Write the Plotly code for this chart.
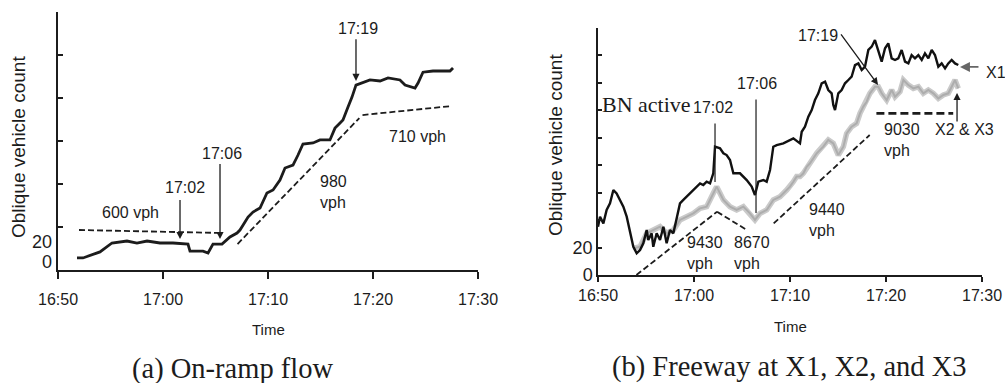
import plotly.graph_objects as go

W, H = 1005, 383

# ---------------- data ----------------
time_ticks = [0, 10, 20, 30, 40]          # minutes after 16:50
time_tick_labels = ["16:50", "17:00", "17:10", "17:20", "17:30"]

# (a) On-ramp oblique cumulative count
ramp_t = [1.81, 2.38, 4.0, 5.14, 6.57, 7.52, 8.48, 9.71, 10.95, 12.38, 12.57, 13.81,
          14.29, 14.76, 15.62, 16.38, 17.05, 17.33, 18.1, 18.57, 19.24, 19.9, 20.48,
          21.14, 21.62, 22.38, 22.86, 23.33, 24.29, 24.95, 25.9, 26.38, 26.86, 27.14,
          27.62, 28.0, 28.38, 28.95, 29.71, 30.67, 31.43, 32.57, 33.05, 34.0, 34.29,
          34.76, 35.71, 37.33, 37.62]
ramp_n = [14, 14, 21, 31.4, 33.7, 31.4, 33.7, 31.4, 31.4, 30.2, 22, 22,
          19.8, 30.2, 30.2, 38.4, 43, 46.5, 61.6, 67.4, 72.1, 89.5, 93,
          104.7, 118.6, 122, 133.7, 146.5, 147.7, 151.2, 151.2, 165, 171, 174.4,
          189.5, 201, 215, 217.4, 221, 219.8, 223.3, 221, 215, 211.6, 217.4,
          230, 231.4, 231.4, 235]
ramp_600_t, ramp_600_n = [2.0, 15.7], [46.5, 43.0]
ramp_980_t, ramp_980_n = [17.1, 28.7], [30.2, 176.7]
ramp_710_t, ramp_710_n = [29.0, 37.5], [180.2, 190.7]
ramp_y_ticks = [0, 50, 100, 150, 200, 250, 300]

# (b) Freeway oblique counts
x1_t = [0.0, 0.21, 0.56, 0.90, 1.25, 1.6, 1.94, 2.29, 2.64, 2.99, 3.33, 3.68, 4.03, 4.38,
        4.72, 5.07, 5.24, 5.59, 5.76, 6.11, 6.46, 6.81, 7.15, 7.5, 7.85, 8.19, 8.54, 8.89,
        9.24, 9.58, 9.93, 10.28, 10.63, 10.97, 11.32, 11.67, 12.01, 12.19, 12.71, 13.06,
        13.4, 13.75, 14.1, 14.79, 15.49, 16.01, 16.35, 16.7, 17.22, 17.57, 17.92, 18.26,
        18.61, 19.31, 20.0, 20.35, 21.04, 21.22, 21.56, 21.91, 22.26, 22.6, 22.95, 23.3,
        23.65, 23.99, 24.34, 24.51, 24.69, 25.03, 25.38, 25.73, 26.08, 26.42, 26.77, 27.12,
        27.47, 27.81, 28.16, 28.51, 28.85, 29.2, 29.55, 29.9, 30.24, 30.59, 30.94, 31.28,
        31.63, 31.98, 32.33, 32.67, 33.02, 33.37, 33.72, 34.06, 34.41, 34.76, 35.1, 35.45,
        35.8, 36.15, 36.49, 36.84, 37.19, 37.53]
x1_n = [35.2, 42.5, 37.6, 47.4, 52.2, 61.9, 59.5, 54.7, 49.8, 42.5, 30.4, 20.6, 15.8, 18.2,
        23.1, 32.8, 25.5, 30.4, 20.6, 30.4, 25.5, 35.2, 23.1, 32.8, 30.4, 40.1, 52.2, 54.7,
        57.1, 59.5, 61.9, 64.4, 66.8, 65.6, 68.0, 66.8, 74.1, 93.5, 92.3, 88.7,
        87.4, 83.8, 74.1, 74.1, 69.2, 64.4, 58.3, 68.0, 69.2, 68.0, 76.5, 93.5,
        94.7, 95.9, 98.4, 99.6, 95.9, 104.4, 108.1, 115.4, 120.2, 127.5, 132.4, 139.7,
        140.9, 134.8, 132.4, 123.9, 120.2, 132.4, 134.8, 139.7, 142.1, 144.5, 153.0, 154.2,
        149.4, 151.8, 164.0, 166.4, 171.2, 164.0, 155.5, 165.2, 168.8, 157.9, 156.7, 157.9,
        164.0, 155.5, 154.2, 160.3, 157.9, 160.3, 156.7, 161.5, 157.9, 164.0, 160.3, 151.8,
        154.2, 150.6, 154.2, 156.7, 154.2, 153.0]
x23_t = [3.68, 4.38, 5.07, 5.76, 6.46, 7.15, 7.85, 8.54, 9.24, 9.93, 10.63, 11.32, 12.01,
         12.36, 12.71, 13.06, 13.75, 14.44, 15.14, 15.83, 16.35, 16.88, 17.57, 18.26, 18.96,
         19.65, 20.0, 20.35, 20.69, 21.04, 21.39, 21.74, 22.08, 22.78, 23.47, 23.99, 24.51,
         25.03, 25.56, 25.9, 26.42, 26.94, 27.29, 27.64, 27.99, 28.33, 28.85, 29.2, 29.55,
         30.07, 30.59, 30.94, 31.46, 31.81, 32.33, 32.85, 33.37, 33.89, 34.41, 34.93, 35.45,
         35.97, 36.49, 36.84, 37.19, 37.53]
x23_n = [19.4, 20.6, 30.4, 32.8, 35.2, 30.4, 32.8, 40.1, 42.5, 44.9, 48.6, 49.8, 59.5,
         64.4, 59.5, 54.7, 49.8, 47.4, 49.8, 44.9, 40.1, 44.9, 47.4, 54.7, 57.1,
         61.9, 64.4, 68.0, 71.7, 71.7, 74.1, 78.9, 81.4, 88.7, 93.5, 98.4, 95.9,
         87.4, 93.5, 103.2, 108.1, 110.5, 117.8, 122.7, 126.3, 132.4, 137.2, 137.2, 132.4,
         127.5, 134.8, 129.9, 133.6, 142.1, 138.4, 136.0, 137.2, 132.4, 134.8, 132.4, 128.7,
         131.2, 132.4, 137.2, 142.1, 136.0]
fw_9430_t, fw_9430_n = [4.0, 12.4], [0.0, 46.1]
fw_8670_t, fw_8670_n = [12.4, 15.5], [46.1, 32.8]
fw_9440_t, fw_9440_n = [18.3, 28.3], [37.6, 102.0]
fw_9030_t, fw_9030_n = [29.0, 37.0], [117.8, 117.8]
fw_y_ticks = [0, 20, 40, 60, 80, 100, 120, 140, 160, 180]
fw_y_labels = ["0", "20", "", "", "", "", "", "", "", ""]

# ---------------- helpers ----------------
def px(x):
    return x / W

def py(y):
    return 1 - y / H

SANS = "Liberation Sans, Arial, sans-serif"
SERIF = "Liberation Serif, Times New Roman, serif"
INK = "#1c1c1c"

fig = go.Figure()

def line(xs, ys, ax, color=INK, width=2, dash="solid"):
    fig.add_trace(go.Scatter(x=xs, y=ys, mode="lines", xaxis="x" + ax, yaxis="y" + ax,
                             line=dict(color=color, width=width, dash=dash,
                                       shape="linear"),
                             showlegend=False, hoverinfo="skip"))

# panel (a)
line(ramp_600_t, ramp_600_n, "", width=1.8, dash="6px,3px")
line(ramp_980_t, ramp_980_n, "", width=1.8, dash="6px,3px")
line(ramp_710_t, ramp_710_n, "", width=1.8, dash="6px,3px")
line(ramp_t, ramp_n, "", width=2.8)

# panel (b)
line(fw_9430_t, fw_9430_n, "2", width=1.8, dash="6px,3px")
line(fw_8670_t, fw_8670_n, "2", width=1.8, dash="6px,3px")
line(fw_9440_t, fw_9440_n, "2", width=1.8, dash="6px,3px")
line(fw_9030_t, fw_9030_n, "2", width=2.8, dash="8px,4px")
line(x23_t, x23_n, "2", color="#cacaca", width=5.5)
line(x23_t, x23_n, "2", color="#adadad", width=2)
line(x1_t, x1_n, "2", color="#111111", width=2.4)

axis_common = dict(showgrid=False, zeroline=False, showline=True, linecolor=INK,
                   linewidth=1.5, tickcolor=INK, tickwidth=1.5, mirror=False,
                   automargin=False)

xcommon = dict(axis_common, tickmode="array", tickvals=time_ticks,
               ticktext=time_tick_labels, ticks="outside",
               range=[0, 40], tickfont=dict(family=SANS, size=16, color=INK))

fig.update_layout(
    width=W, height=H, margin=dict(l=0, r=0, t=0, b=0, pad=0, autoexpand=False),
    paper_bgcolor="white", plot_bgcolor="white", showlegend=False,
    xaxis=dict(xcommon, domain=[px(58), px(478)], anchor="y", ticklen=7,
               ticklabelstandoff=7),
    yaxis=dict(axis_common, domain=[py(270), py(12)], anchor="x", range=[0, 300],
               tickmode="array", tickvals=ramp_y_ticks, ticks="inside", ticklen=5,
               showticklabels=False),
    xaxis2=dict(xcommon, domain=[px(598), px(982)], anchor="y2", ticklen=5),
    yaxis2=dict(axis_common, domain=[py(275), py(28)], anchor="x2", range=[0, 180],
                tickmode="array", tickvals=fw_y_ticks, ticktext=fw_y_labels,
                ticks="inside", ticklen=4,
                tickfont=dict(family=SANS, size=18, color=INK)),
)

ann = []

def text(x, y, s, size=16, family=SANS, xref="paper", yref="paper", **kw):
    d = dict(x=x, y=y, text=s, xref=xref, yref=yref, showarrow=False,
             xanchor="center", yanchor="middle",
             font=dict(family=family, size=size, color=INK))
    d.update(kw)
    ann.append(d)

def arrow(x, y, axv, ayv, xref, yref, head=2, width=1.3, color=INK):
    ann.append(dict(x=x, y=y, ax=axv, ay=ayv, xref=xref, yref=yref, axref=xref,
                    ayref=yref, text="", showarrow=True, arrowhead=head,
                    arrowsize=1.1, arrowwidth=width, arrowcolor=color, standoff=0,
                    startstandoff=0))

# axis titles
text(px(268), py(329), "Time", size=15)
text(px(790), py(326), "Time", size=15)
text(px(18), py(147), "Oblique vehicle count", size=19, textangle=-90)
text(px(555), py(145), "Oblique vehicle count", size=19, textangle=-90)
# left y labels (offset from ticks as in the original)
text(px(54), py(242), "20", size=18, xanchor="right")
text(px(54), py(262), "0", size=18, xanchor="right")

# captions
text(px(232), py(369), "(a) On-ramp flow", size=28.5, family=SERIF)
text(px(789), py(367), "(b) Freeway at X1, X2, and X3", size=28.5, family=SERIF)

# panel (a) annotations
text(6.95, 66.3, "600 vph", xref="x", yref="y")
text(12.1, 96.5, "17:02", xref="x", yref="y")
text(15.6, 136, "17:06", xref="x", yref="y")
text(28.57, 281.4, "17:19", xref="x", yref="y")
text(24.76, 90.7, "980<br>vph", xref="x", yref="y", xanchor="left", align="left")
text(34.19, 155.8, "710 vph", xref="x", yref="y")
arrow(11.62, 36.0, 11.62, 83.0, "x", "y")
arrow(15.43, 36.0, 15.43, 125.0, "x", "y")
arrow(28.38, 219.8, 28.38, 270.0, "x", "y")

# panel (b) annotations
text(0.2, 123.9, "BN active", size=22, family=SERIF, xref="x2", yref="y2", xanchor="left")
text(11.98, 122.4, "17:02", xref="x2", yref="y2")
text(16.56, 139.9, "17:06", xref="x2", yref="y2")
text(22.92, 174.9, "17:19", xref="x2", yref="y2")
text(px(984), py(72), "X1", xanchor="left")
text(38.2, 105.7, "X2 &amp; X3", xref="x2", yref="y2")
text(29.58, 98.4, "9030<br>vph", xref="x2", yref="y2", xanchor="left", align="left")
text(21.77, 40.1, "9440<br>vph", xref="x2", yref="y2", xanchor="left", align="left")
text(9.06, 16.0, "9430<br>vph", xref="x2", yref="y2", xanchor="left", align="left")
text(13.96, 16.0, "8670<br>vph", xref="x2", yref="y2", xanchor="left", align="left")
arrow(12.19, 67.8, 12.19, 111.5, "x2", "y2", head=0, width=1.2)
arrow(16.46, 45.2, 16.46, 129.0, "x2", "y2", head=0, width=1.2)
arrow(29.17, 138.5, 25.2, 176.4, "x2", "y2")
arrow(37.71, 151.6, 39.79, 151.6, "x2", "y2", width=1.8, color="#666666")
arrow(37.4, 132.7, 37.4, 110.8, "x2", "y2")

fig.update_layout(annotations=ann)
fig.write_html(
    "out.html",
    config={"displayModeBar": False},
    post_script="document.body.style.margin='0';document.body.style.overflow='hidden';",
)
